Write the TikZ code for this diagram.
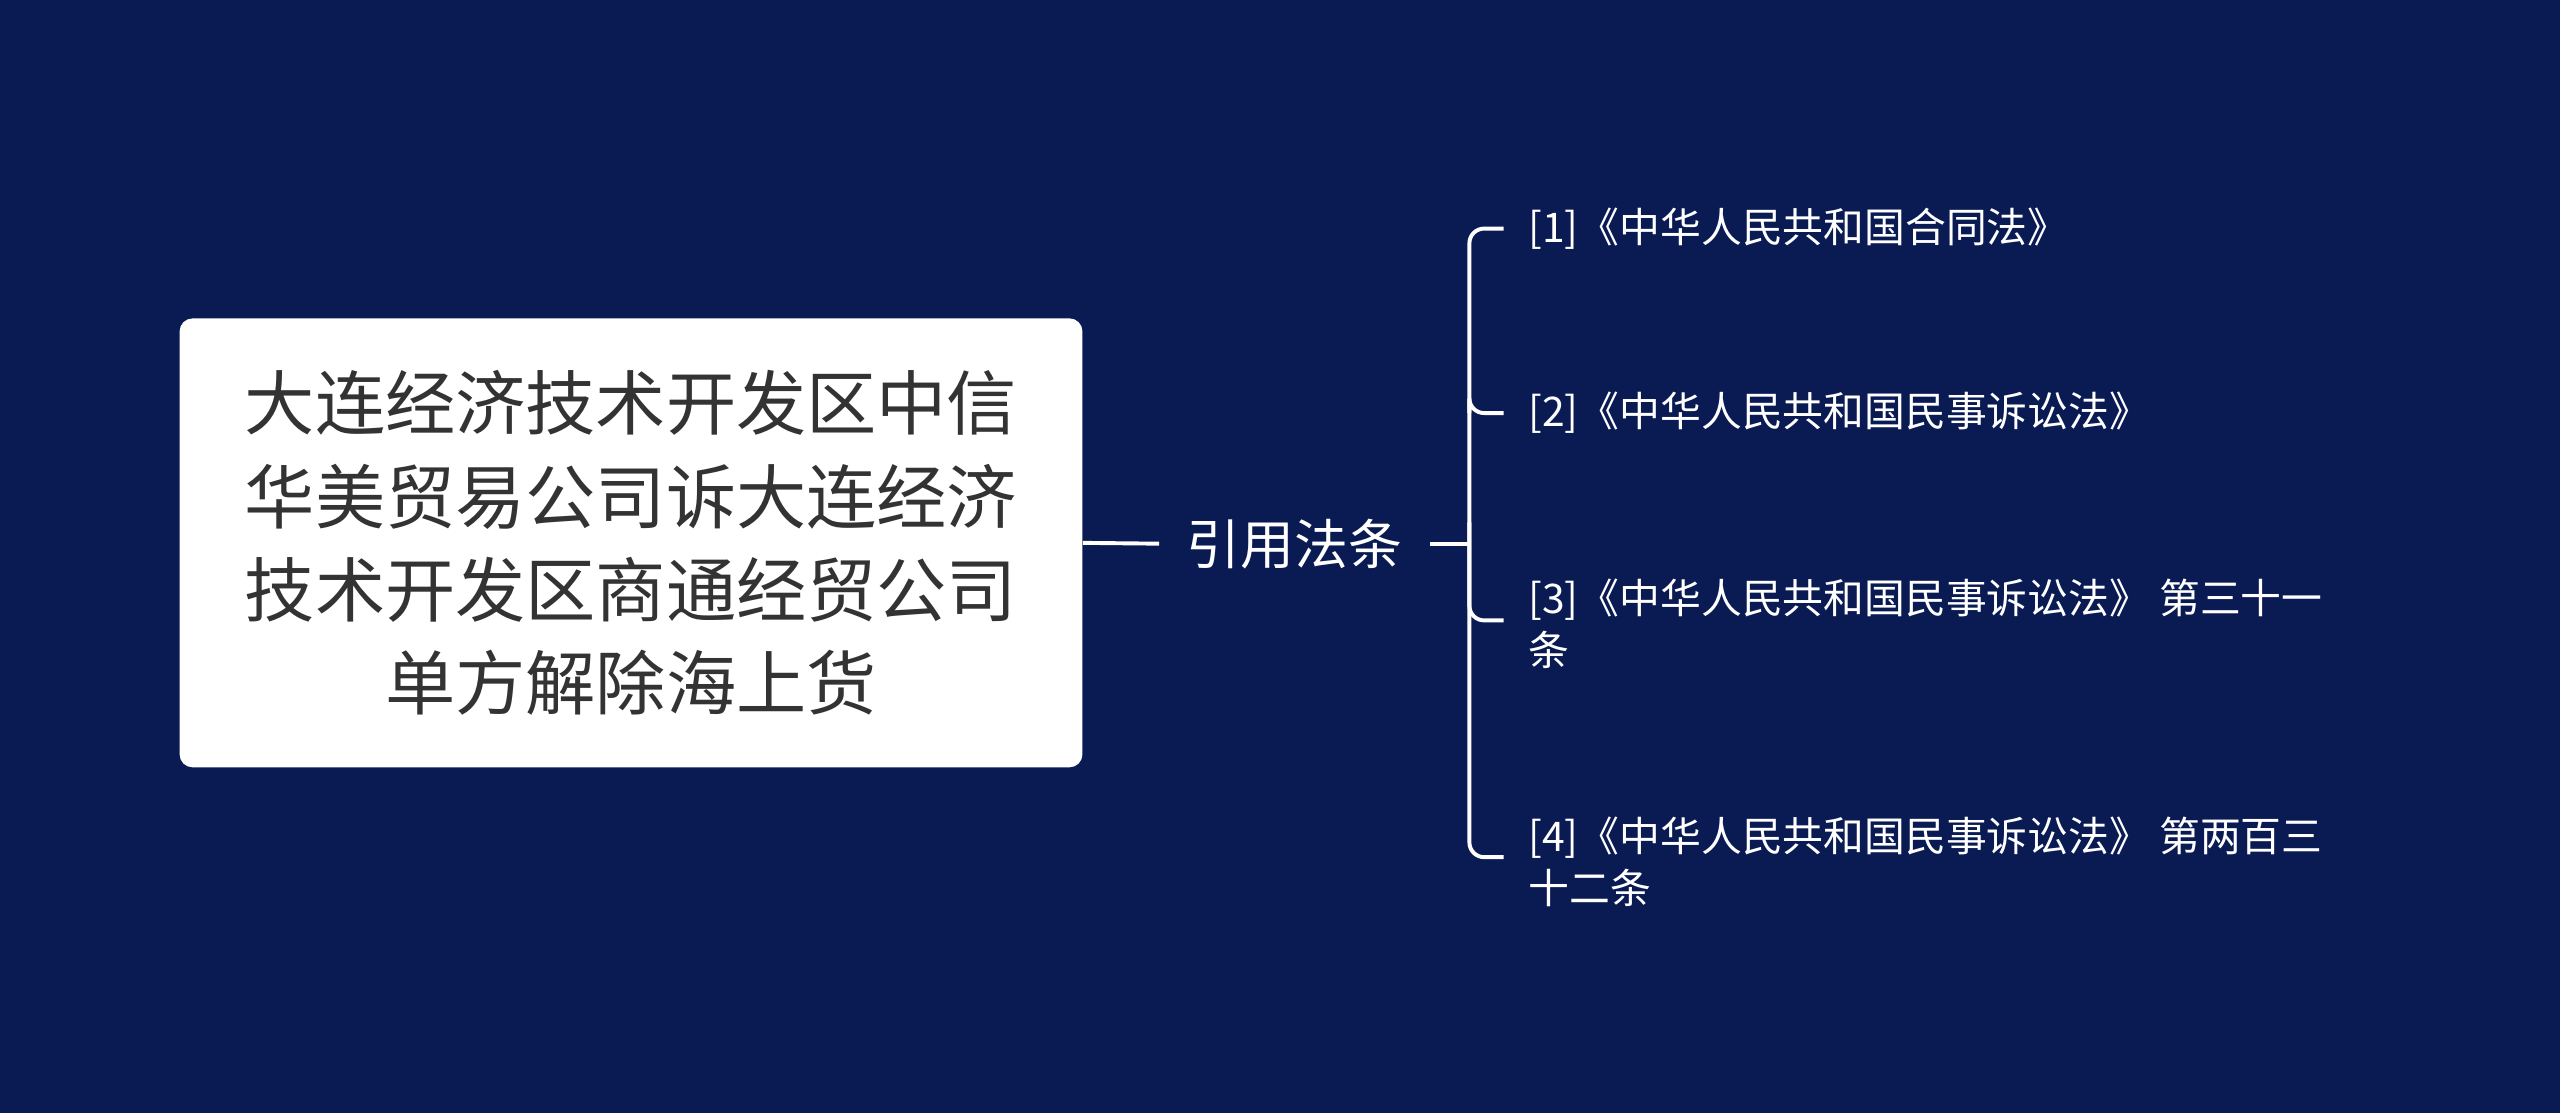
\documentclass[tikz,border=0pt]{standalone}
\usepackage{fontspec}
\setmainfont{Noto Sans CJK SC}
\definecolor{bg}{RGB}{10,27,84}
\definecolor{tx}{RGB}{51,51,51}
\begin{document}
\begin{tikzpicture}[x=1pt,y=-1pt,
  conn/.style={draw=white,line width=2.4pt,rounded corners=9pt},
  leaf/.style={anchor=west,text=white,font=\fontsize{25}{32}\selectfont,align=left,inner sep=0pt}]
\fill[bg] (0,0) rectangle (1568,682);
\useasboundingbox (0,0) rectangle (1568,682);
\node[fill=white,rounded corners=8pt,minimum width=553pt,minimum height=275pt,text=tx,
  font=\fontsize{43}{57}\selectfont,align=center] (root) at (386.5,332.5)
  {大连经济技术开发区中信\\华美贸易公司诉大连经济\\技术开发区商通经贸公司\\单方解除海上货};
\node[text=white,font=\fontsize{33}{35}\selectfont,inner sep=0pt] (mid) at (793,333) {引用法条};
\coordinate (a) at (710,333);
\coordinate (b) at (876,333);
\coordinate (j) at (900,333);
\draw[conn,rounded corners=0pt] (root.east) -- (a);
\draw[conn,rounded corners=0pt] (b) -- (j);
\node[leaf] (l1) at (936,140) {[1]《中华人民共和国合同法》};
\node[leaf] (l2) at (936,253) {[2]《中华人民共和国民事诉讼法》};
\node[leaf] (l3) at (936,382) {[3]《中华人民共和国民事诉讼法》 第三十一\\条};
\node[leaf] (l4) at (936,528) {[4]《中华人民共和国民事诉讼法》 第两百三\\十二条};
\draw[conn] (921,140) -- (900,140) -- (900,525) -- (921,525);
\draw[conn] (900,253) |- (921,253);
\draw[conn] (900,320) |- (921,380);
\end{tikzpicture}
\end{document}
